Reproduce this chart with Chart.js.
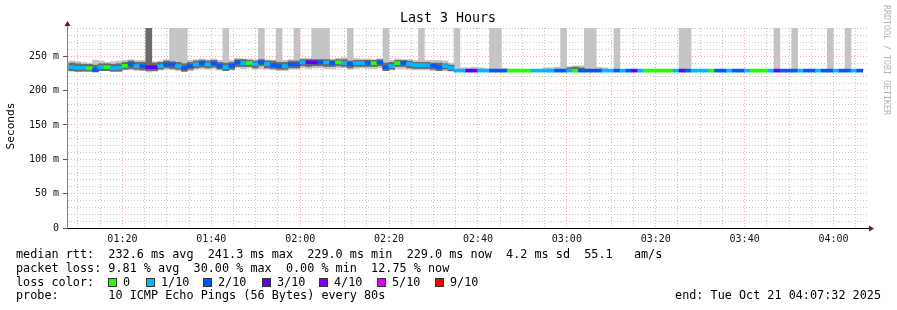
<!DOCTYPE html>
<html>
<head>
<meta charset="utf-8">
<script src="https://cdn.jsdelivr.net/npm/chart.js@4/dist/chart.umd.min.js"></script>
<style>
  html, body { margin: 0; padding: 0; background: #fff; }
  #c { display: block; }
</style>
</head>
<body>
<canvas id="c" width="897" height="310"></canvas>
<script>
// graph window: 01:07:32 .. 04:07:32, one probe every 80 s
const startMin = 67 + 32 / 60
const endMin = startMin + 180
const stepMin = 80 / 60
const stepPhase = 0.8

// median rtt per probe step (ms)
const median = [
  234, 233, 233, 232.5, 230, 234, 234, 232.5, 233, 236,
  238, 235.5, 235.5, 234, 234, 235.5, 238, 238, 235.5, 232.5,
  235.5, 238, 239.5, 238, 239.5, 235.5, 234, 236, 241, 240,
  240, 238.5, 241, 238.5, 237, 235.5, 235.5, 238, 238, 241,
  241, 241, 241, 241, 240, 241, 240, 238.5, 240, 240,
  240, 240, 241, 234, 235.5, 240, 240, 238.5, 237, 237,
  237, 236, 234, 235.5, 233, 229, 229, 229, 229, 229,
  229, 229, 229, 229, 229, 229, 229, 229, 229, 229,
  229, 229, 229, 229, 229, 229, 229, 229, 229, 229,
  229, 229, 229, 229, 229, 229, 229, 229, 229, 229,
  229, 229, 229, 229, 229, 229, 229, 229, 229, 229,
  229, 229, 229, 229, 229, 229, 229, 229, 229, 229,
  229, 229, 229, 229, 229, 229, 229, 229, 229, 229,
  229, 229, 229, 229
]

// lost pings (of 10) per step
const loss = [
  1, 1, 1, 0, 2, 1, 0, 1, 1, 0,
  2, 1, 2, 3, 3, 1, 2, 2, 1, 2,
  2, 1, 2, 1, 2, 2, 1, 2, 2, 1,
  0, 1, 2, 1, 2, 2, 1, 2, 2, 1,
  3, 3, 2, 1, 2, 0, 1, 2, 1, 1,
  2, 0, 2, 2, 1, 0, 2, 1, 1, 1,
  1, 2, 2, 1, 1, 1, 1, 3, 3, 1,
  1, 2, 2, 2, 0, 0, 0, 0, 1, 1,
  1, 1, 2, 2, 1, 0, 2, 2, 2, 2,
  1, 1, 2, 1, 2, 3, 1, 0, 0, 0,
  0, 0, 1, 3, 2, 1, 1, 1, 0, 2,
  2, 1, 2, 2, 1, 0, 0, 0, 1, 3,
  2, 2, 2, 1, 2, 2, 1, 2, 2, 1,
  2, 2, 1, 2
]

// smoke: spread of the individual pings (ms), outer and inner band
const smokeLo = [
  228, 228, 229, 229, 228, 229, 229, 228, 229, 230,
  230, 229, 229, 227, 228, 230, 231, 230, 229, 228,
  229, 231, 232, 231, 232, 230, 229, 230, 233, 232,
  233, 231, 232, 231, 230, 229, 229, 231, 231, 233,
  232, 233, 233, 232, 232, 233, 233, 231, 232, 233,
  232, 232, 233, 229, 230, 232, 232, 231, 230, 230,
  230, 229, 229, 229, 228, 228, 228, 228, 228, 228,
  228, 228, 228, 228, null, 228, 228, null, null, null,
  228, 228, 228, 228, 228, 228, 228, 228, 228, 228,
  228, null, 228, null, null, null, null, null, null, null,
  null, null, null, 228, 228, null, null, null, null, null,
  null, null, null, null, null, null, null, null, null, 228,
  null, null, 228, null, null, null, null, null, 228, null,
  null, 228, null, null
]
const smokeHi = [
  243, 242, 241, 240, 244, 243, 241, 242, 243, 244,
  245, 244, 244, 291, 242, 243, 245, 291, 291, 291,
  244, 245, 246, 245, 246, 244, 291, 244, 247, 246,
  246, 245, 291, 245, 244, 291, 244, 245, 291, 247,
  247, 291, 291, 291, 246, 247, 248, 291, 247, 246,
  246, 245, 246, 291, 244, 246, 245, 245, 244, 291,
  244, 244, 244, 243, 240, 291, 233, 233, 234, 233,
  232, 291, 291, 232, null, 231, 231, null, null, null,
  233, 233, 234, 291, 235, 236, 236, 291, 291, 234,
  233, null, 291, null, null, null, null, null, null, null,
  null, null, null, 291, 291, null, null, null, null, null,
  null, null, null, null, null, null, null, null, null, 291,
  null, null, 291, null, null, null, null, null, 291, null,
  null, 291, null, null
]
const coreLo = [
  229, 228, 228, 228, 227, 229, 229, 228, 228, 231,
  232, 231, 230, 229, 229, 231, 233, 232, 231, 228,
  231, 233, 234, 233, 234, 231, 229, 231, 235, 235,
  235, 233, 236, 233, 232, 231, 231, 233, 233, 236,
  235, 236, 236, 235, 235, 236, 235, 233, 235, 235,
  235, 235, 236, 229, 231, 235, 235, 233, 232, 232,
  232, 231, 229, 231, 229, null, null, null, null, null,
  null, null, null, null, null, null, null, null, null, null,
  null, null, null, null, 229, 229, 229, null, null, null
]
const coreHi = [
  240, 239, 238, 238, 237, 239, 239, 238, 239, 241,
  243, 241, 241, 291, 240, 241, 243, 242, 241, 239,
  241, 243, 244, 243, 244, 241, 240, 241, 245, 245,
  244, 243, 245, 243, 243, 241, 241, 243, 243, 245,
  245, 245, 245, 245, 244, 245, 245, 243, 244, 244,
  244, 244, 245, 240, 241, 244, 244, 243, 241, 241,
  241, 240, 240, 239, 237, null, null, null, null, null,
  null, null, null, null, null, null, null, null, null, null,
  null, null, null, null, 233, 234, 233, null, null, null
]

const lossLabels = ['0', '1/10', '2/10', '3/10', '4/10', '5/10', '9/10']
const lossColors = ['#26ff00', '#00b8ff', '#0059ff', '#5e00ff', '#7e00ff', '#dd00ff', '#ff0000']

const stepX = i => startMin + (i + stepPhase) * stepMin
function bars(lo, hi) {
  const out = []
  for (let i = 0; i < lo.length; i++) {
    if (lo[i] == null || hi[i] == null) continue
    out.push({ x: stepX(i), y: [lo[i], hi[i]] })
  }
  return out
}
const medianBars = median.map((m, i) => ({ x: stepX(i), y: [m - 2.2, m + 2.2] }))

const xTicks = []
for (let m = 70; m < endMin; m += 5) xTicks.push(m)

const mono = 'DejaVu Sans Mono'
const minorGrid = 'rgba(150,150,150,0.55)'
const majorGrid = 'rgba(240,110,110,0.6)'

const decor = {
  id: 'decor',
  afterDraw(chart) {
    const ctx = chart.ctx
    const a = chart.chartArea
    ctx.save()
    // axis arrows
    ctx.strokeStyle = '#808080'
    ctx.lineWidth = 1
    ctx.beginPath(); ctx.moveTo(a.left + 0.5, a.top); ctx.lineTo(a.left + 0.5, a.top - 3); ctx.stroke()
    ctx.fillStyle = '#7a1010'
    ctx.beginPath(); ctx.moveTo(a.left + 0.5, a.top - 7); ctx.lineTo(a.left - 2.5, a.top - 2); ctx.lineTo(a.left + 3.5, a.top - 2); ctx.fill()
    ctx.strokeStyle = '#000'
    ctx.beginPath(); ctx.moveTo(a.right, a.bottom + 0.5); ctx.lineTo(a.right + 3, a.bottom + 0.5); ctx.stroke()
    ctx.beginPath(); ctx.moveTo(a.right + 7, a.bottom + 0.5); ctx.lineTo(a.right + 2, a.bottom - 2.5); ctx.lineTo(a.right + 2, a.bottom + 3.5); ctx.fill()

    ctx.fillStyle = '#000'
    ctx.textBaseline = 'middle'
    ctx.textAlign = 'center'
    ctx.font = '13.3px ' + mono
    ctx.fillText('Last 3 Hours', 448, 19)

    ctx.save()
    ctx.translate(11, 126)
    ctx.rotate(-Math.PI / 2)
    ctx.font = '11.2px ' + mono
    ctx.fillText('Seconds', 0, 0)
    ctx.restore()

    ctx.save()
    ctx.translate(886, 5)
    ctx.rotate(Math.PI / 2)
    ctx.textAlign = 'left'
    ctx.fillStyle = '#b4b4b4'
    ctx.font = '8.3px ' + mono
    ctx.fillText('RRDTOOL / TOBI OETIKER', 0, 0)
    ctx.restore()

    ctx.textAlign = 'left'
    ctx.font = '11.8px ' + mono
    ctx.fillText('median rtt:  232.6 ms avg  241.3 ms max  229.0 ms min  229.0 ms now  4.2 ms sd  55.1   am/s', 16, 255)
    ctx.fillText('packet loss: 9.81 % avg  30.00 % max  0.00 % min  12.75 % now', 16, 268.5)
    ctx.fillText('loss color:', 16, 282.5)
    ctx.fillText('probe:       10 ICMP Echo Pings (56 Bytes) every 80s', 16, 296)

    const boxX = [108, 146, 203, 262, 319, 377, 435]
    lossLabels.forEach((lab, i) => {
      ctx.fillStyle = lossColors[i]
      ctx.fillRect(boxX[i], 278, 9, 9)
      ctx.strokeStyle = '#333'
      ctx.strokeRect(boxX[i] + 0.5, 278.5, 8, 8)
      ctx.fillStyle = '#000'
      ctx.fillText(lab, boxX[i] + 15, 282.5)
    })

    ctx.textAlign = 'right'
    ctx.fillText('end: Tue Oct 21 04:07:32 2025', 881, 296)
    ctx.restore()
  }
}

const pad2 = n => String(n).padStart(2, '0')

new Chart(document.getElementById('c'), {
  type: 'bar',
  data: {
    datasets: [
      { label: 'median', data: medianBars, backgroundColor: loss.map(l => lossColors[l]) },
      { label: 'core', data: bars(coreLo, coreHi), backgroundColor: '#6a6a6a' },
      { label: 'smoke', data: bars(smokeLo, smokeHi), backgroundColor: '#c4c4c4' }
    ]
  },
  options: {
    responsive: false,
    animation: false,
    devicePixelRatio: 1,
    layout: { padding: { left: 0, right: 30, top: 28, bottom: 0 } },
    datasets: {
      bar: { grouped: false, barPercentage: 1, categoryPercentage: 1, borderWidth: 0 }
    },
    plugins: { legend: { display: false }, tooltip: { enabled: false }, title: { display: false } },
    scales: {
      x: {
        type: 'linear',
        min: startMin,
        max: endMin,
        offset: false,
        afterBuildTicks: s => { s.ticks = xTicks.map(v => ({ value: v })) },
        afterFit: s => { s.height = 82 },
        grid: {
          offset: false,
          color: c => (c.tick && c.tick.value % 20 === 0) ? majorGrid : minorGrid,
          tickLength: 3,
          tickColor: 'rgba(0,0,0,0)'
        },
        border: { color: '#000', width: 1, dash: [1, 2] },
        ticks: {
          autoSkip: false,
          maxRotation: 0,
          padding: 2,
          color: '#111',
          font: { family: mono, size: 10 },
          callback: v => v % 20 === 0 ? pad2(Math.floor(v / 60)) + ':' + pad2(v % 60) : ''
        }
      },
      y: {
        min: 0,
        max: 291,
        afterFit: s => { s.width = 67 },
        grid: {
          color: c => (c.tick && c.tick.value % 50 === 0) ? majorGrid : minorGrid,
          tickLength: 4,
          tickColor: c => (c.tick && c.tick.value % 50 === 0) ? '#555' : 'rgba(0,0,0,0)'
        },
        border: { color: '#808080', width: 1, dash: [1, 2] },
        ticks: {
          stepSize: 10,
          includeBounds: false,
          autoSkip: false,
          padding: 4,
          color: '#111',
          font: { family: mono, size: 10 },
          callback: v => v === 0 ? '0' : (v % 50 === 0 ? v + ' m' : '')
        }
      }
    }
  },
  plugins: [decor]
})
</script>
</body>
</html>
